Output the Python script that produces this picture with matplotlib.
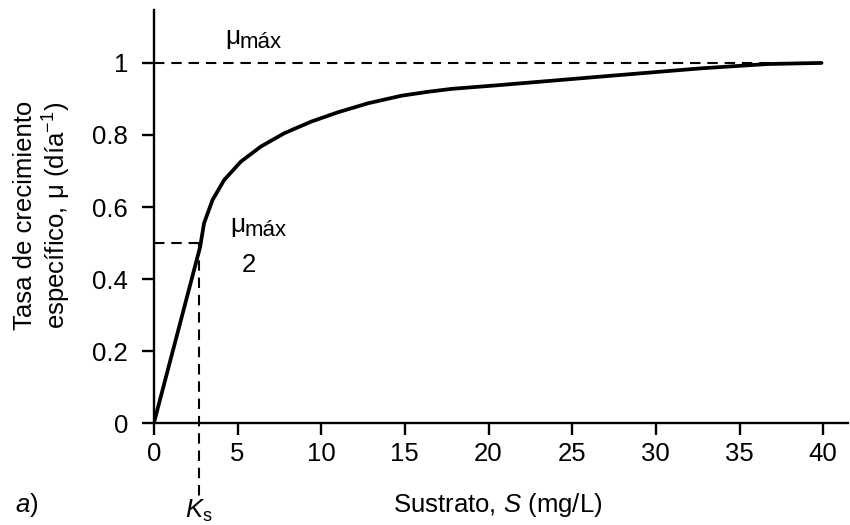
import matplotlib
matplotlib.use("Agg")
import matplotlib.pyplot as plt
from matplotlib.transforms import offset_copy

# Data
S = [0, 2.77, 3.0, 3.5, 4.2, 5.2, 6.4, 7.8, 9.4, 11.0, 12.8, 14.8, 16.4, 17.8, 20.8, 26.7, 32.7, 36.7, 39.9]
mu = [0, 0.49, 0.555, 0.619, 0.675, 0.726, 0.768, 0.805, 0.837, 0.863, 0.888, 0.909, 0.920, 0.928, 0.939, 0.962, 0.985, 0.997, 1.0]
mu_max = 1.0
Ks = 2.7
x_ticks = [0, 5, 10, 15, 20, 25, 30, 35, 40]
y_ticks = [0, 0.2, 0.4, 0.6, 0.8, 1]
y_tick_labels = ["0", "0.2", "0.4", "0.6", "0.8", "1"]

plt.rcParams['font.family'] = ['Liberation Sans', 'DejaVu Sans']
plt.rcParams['mathtext.fontset'] = 'custom'
plt.rcParams['mathtext.rm'] = 'Liberation Sans'
plt.rcParams['mathtext.it'] = 'Liberation Sans:italic'
plt.rcParams['mathtext.bf'] = 'Liberation Sans:bold'

FS = 18.5

fig = plt.figure(figsize=(8.5, 5.25), dpi=100)
ax = fig.add_axes([0.181, 0.194, 0.817, 0.787])

ax.plot(S, mu, color='black', lw=2.7, solid_capstyle='round', solid_joinstyle='round', zorder=3)

dash = (0, (5, 3.3))
ax.plot([0, S[-1]], [mu_max, mu_max], color='black', lw=1.5, linestyle=dash)
ax.plot([0, Ks], [mu_max / 2, mu_max / 2], color='black', lw=1.5, linestyle=dash)
ax.plot([Ks, Ks], [mu_max / 2, -0.205], color='black', lw=1.5, linestyle=dash, clip_on=False)

ax.set_xlim(0, 41.5)
ax.set_ylim(0, 1.147)
ax.set_xticks(x_ticks)
ax.set_yticks(y_ticks)
ax.set_yticklabels(y_tick_labels)
for s in ['top', 'right']:
    ax.spines[s].set_visible(False)
for s in ['left', 'bottom']:
    ax.spines[s].set_linewidth(1.7)
ax.tick_params(direction='out', length=8.5, width=1.7, labelsize=FS)
ax.tick_params(axis='y', pad=10)
ax.tick_params(axis='x', pad=5)


def mu_label(x, y):
    ax.text(x, y, "μ", fontsize=FS + 0.5, ha='left', va='center')
    tr = offset_copy(ax.transData, fig=fig, x=10.8, y=-4, units='points')
    ax.text(x, y, "máx", fontsize=FS - 2.5, ha='left', va='center', transform=tr)


mu_label(4.25, 1.072)
mu_label(4.55, 0.55)
ax.text(5.68, 0.44, "2", fontsize=FS, ha='center', va='center')

fig.text(0.051, 0.589, "Tasa de crecimiento\nespecífico, μ (día$^{-1}$)", fontsize=FS,
         rotation=90, ha='center', va='center', multialignment='center', linespacing=1.15)
ax.text(Ks, -0.262, r"$K_{\mathrm{s}}$", fontsize=FS, ha='center', va='baseline')
fig.text(0.585, 0.038, r"Sustrato, $S$ (mg/L)", fontsize=FS, ha='center', va='center')
fig.text(0.018, 0.038, r"$a$)", fontsize=FS, ha='left', va='center')

fig.savefig("out.png", dpi=100)
